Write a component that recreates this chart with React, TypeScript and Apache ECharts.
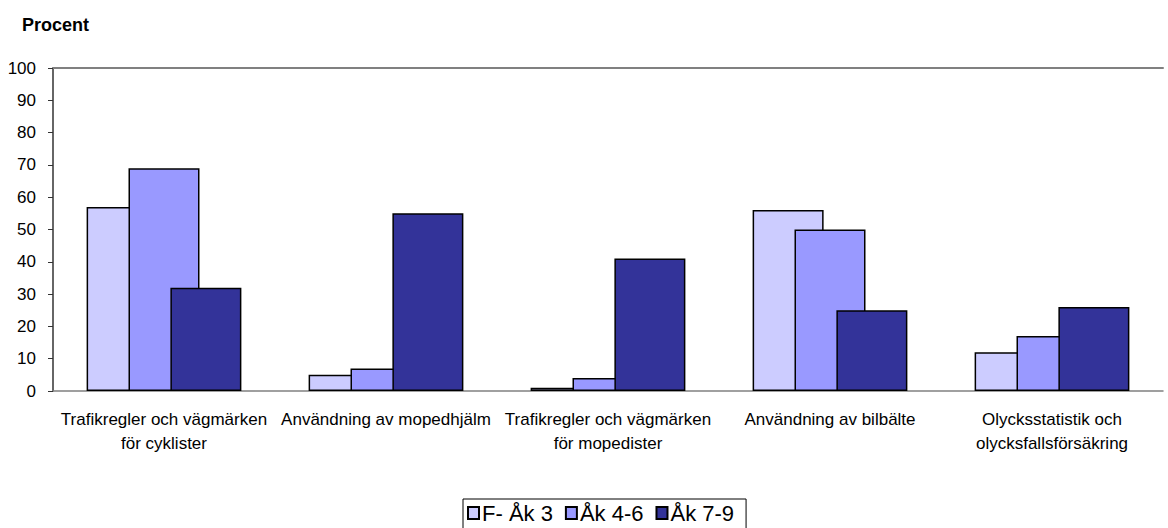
import React, { useEffect, useRef } from "react";
import * as echarts from "echarts";

const categories = [
  "Trafikregler och vägmärken\nför cyklister",
  "Användning av mopedhjälm",
  "Trafikregler och vägmärken\nför mopedister",
  "Användning av bilbälte",
  "Olycksstatistik och\nolycksfallsförsäkring",
];
const seriesNames = ["F- Åk 3", "Åk 4-6", "Åk 7-9"];
const fAk3 = [57, 5, 1, 56, 12];
const ak46 = [69, 7, 4, 50, 17];
const ak79 = [32, 55, 41, 25, 26];
const colors = ["#CCCCFF", "#9999FF", "#333399"];
const yTicks = [0, 10, 20, 30, 40, 50, 60, 70, 80, 90, 100];

const sans = "'Liberation Sans', Arial, sans-serif";

export default function App() {
  const ref = useRef<HTMLDivElement>(null);
  useEffect(() => {
    if (!ref.current) return;
    const chart = echarts.init(ref.current, null, { renderer: "svg" });
    const data = [fAk3, ak46, ak79];
    chart.setOption({
      animation: false,
      backgroundColor: "#ffffff",
      title: {
        text: "Procent",
        left: 17,
        top: 11,
        textStyle: { fontFamily: sans, fontSize: 18, fontWeight: "bold", color: "#000" },
      },
      legend: {
        top: 499,
        left: 463,
        data: seriesNames,
        icon: "rect",
        itemWidth: 11,
        itemHeight: 12,
        itemGap: 12,
        borderColor: "#000",
        borderWidth: 1,
        borderRadius: 0,
        padding: [3, 12, 12, 4],
        textStyle: { fontFamily: sans, fontSize: 22, color: "#000", padding: [4, 0, 0, -2] },
      },
      grid: { left: 53, right: 5, top: 68, bottom: 137, containLabel: false },
      xAxis: [
        {
          type: "category",
          data: categories,
          axisLine: { lineStyle: { color: "#808080", width: 1.5 } },
          axisTick: { show: false },
          axisLabel: {
            interval: 0,
            margin: 16,
            fontFamily: sans,
            fontSize: 17,
            lineHeight: 24,
            color: "#000",
            align: "center",
          },
        },
        {
          type: "category",
          position: "top",
          data: categories,
          axisLine: { lineStyle: { color: "#808080", width: 2 } },
          axisTick: { show: false },
          axisLabel: { show: false },
        },
      ],
      yAxis: {
        type: "value",
        min: 0,
        max: 100,
        interval: 10,
        axisLine: { show: true, lineStyle: { color: "#333", width: 1.5 } },
        axisTick: { show: true, length: 5, lineStyle: { color: "#333" } },
        splitLine: { show: false },
        axisLabel: {
          fontFamily: sans,
          fontSize: 17,
          color: "#000",
          margin: 17,
          formatter: (v: number) => (yTicks.includes(v) ? String(v) : ""),
        },
      },
      series: seriesNames.map((name, i) => ({
        name,
        type: "bar",
        data: data[i],
        barWidth: 71,
        barGap: "-41%",
        itemStyle: { color: colors[i], borderColor: "#000", borderWidth: 1.5 },
      })),
    });
    return () => chart.dispose();
  }, []);
  return <div ref={ref} style={{ width: 1168, height: 528, position: "absolute", left: 0, top: 0 }} />;
}
